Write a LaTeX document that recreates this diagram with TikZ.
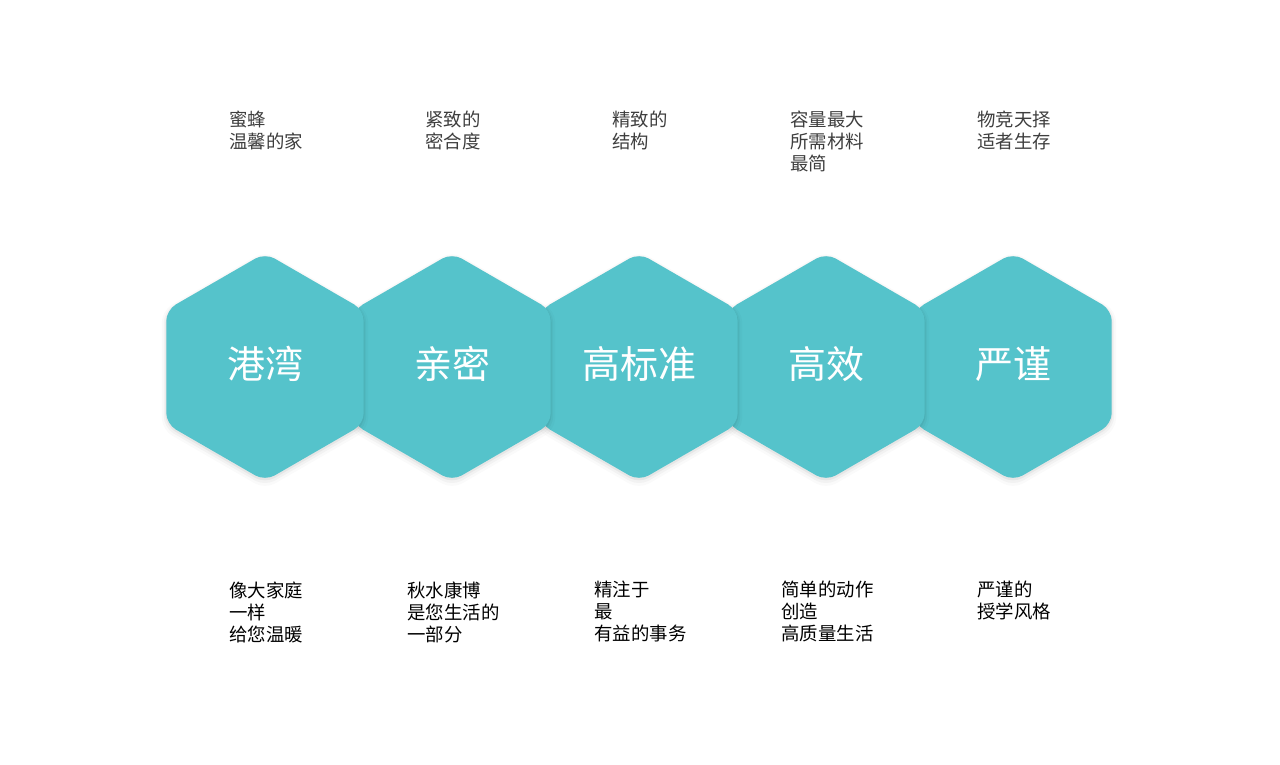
\documentclass[tikz,border=0pt]{standalone}
\usepackage{fontspec}
\setmainfont{Noto Sans CJK SC}
\usepackage{xcolor}
\usetikzlibrary{shapes.geometric,shadows,positioning}
\definecolor{hexteal}{HTML}{55C3CB}
\definecolor{notegray}{HTML}{3E3E3E}

\begin{document}
\begin{tikzpicture}[x=0.5pt, y=-0.5pt,
    hexcell/.style={regular polygon, regular polygon sides=6, shape border rotate=30,
        minimum size=114pt, inner sep=0pt, rounded corners=5.5pt, fill=hexteal, text=white,
        font=\fontsize{19}{23}\selectfont, text height=16.7pt, text depth=5.3pt,
        general shadow={fill=black, opacity=0.02, shadow scale=1.045, shadow yshift=-1.5pt},
        general shadow={fill=black, opacity=0.03, shadow scale=1.025, shadow yshift=-1.2pt},
        general shadow={fill=black, opacity=0.05, shadow scale=1.008, shadow yshift=-0.8pt}},
    topnote/.style={anchor=north west, inner sep=0pt, align=left, text=notegray,
        font=\fontsize{9.2}{11}\selectfont},
    bottomnote/.style={anchor=north west, inner sep=0pt, align=left, text=black,
        font=\fontsize{9.2}{11}\selectfont}]
    \useasboundingbox (0,0) rectangle (1280,765);

    % Hexagons, right to left so the left one lies on top
    \node[hexcell] (hex5) at (1013,367) {严谨};
    \node[hexcell] (hex4) at (826,367) {高效};
    \node[hexcell] (hex3) at (639,367) {高标准};
    \node[hexcell] (hex2) at (452,367) {亲密};
    \node[hexcell] (hex1) at (265,367) {港湾};

    % Notes above
    \node[topnote] (top1) at (229,111) {蜜蜂\\温馨的家};
    \node[topnote] (top2) at (425,111) {紧致的\\密合度};
    \node[topnote] (top3) at (612,111) {精致的\\结构};
    \node[topnote] (top4) at (790,111) {容量最大\\所需材料\\最简};
    \node[topnote] (top5) at (977,111) {物竞天择\\适者生存};

    % Notes below
    \node[bottomnote] (bot1) at (229,581) {像大家庭\\一样\\给您温暖};
    \node[bottomnote] (bot2) at (407,581) {秋水康博\\是您生活的\\一部分};
    \node[bottomnote] (bot3) at (594,581) {精注于\\最\\有益的事务};
    \node[bottomnote] (bot4) at (781,581) {简单的动作\\创造\\高质量生活};
    \node[bottomnote] (bot5) at (977,581) {严谨的\\授学风格};

\end{tikzpicture}
\end{document}
